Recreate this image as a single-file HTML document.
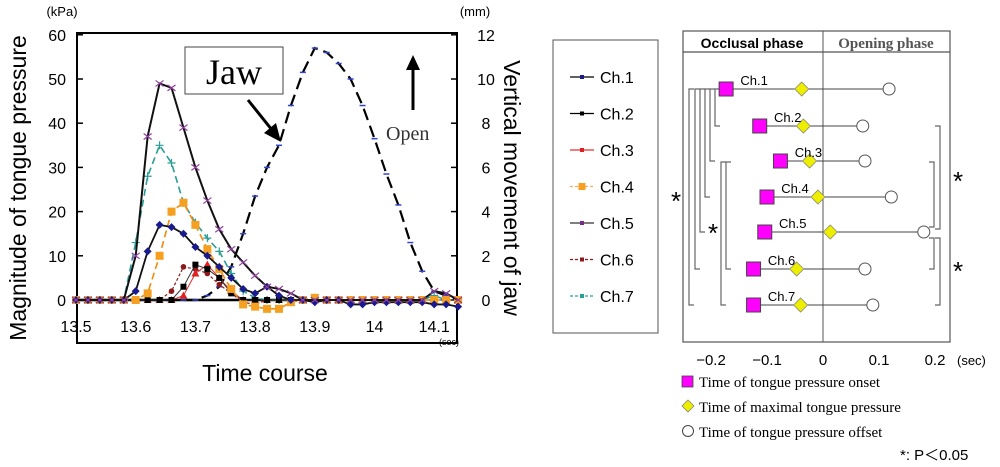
<!DOCTYPE html>
<html><head><meta charset="utf-8">
<style>
html,body{margin:0;padding:0;background:#fff;}
svg{display:block;font-family:"Liberation Sans",sans-serif;}
</style></head>
<body>
<svg id="fig" width="1000" height="467" viewBox="0 0 1000 467" xmlns="http://www.w3.org/2000/svg">
<g id="left"></g>
<g id="legend"></g>
<g id="right"></g>
</svg>
<script>
// ---- Left chart data ----
const times = [13.50,13.52,13.54,13.56,13.58,13.60,13.62,13.64,13.66,13.68,13.70,13.72,13.74,13.76,13.78,13.80,13.82,13.84,13.86,13.88,13.90,13.92,13.94,13.96,13.98,14.00,14.02,14.04,14.06,14.08,14.10,14.12,14.14];
const ch1 = [0,0,0,0,0,2,11,17,16.5,15,12,10,7.5,5,2.5,1.5,3,1,0,0,-0.5,0,0,-1,-1,-0.5,-0.5,-0.5,-0.5,-0.5,-1,-1,-1.5];
const ch2 = [0,0,0,0,0,0,0,0,0,3,8,7,5,1.5,0,0,0,0,0,0,0,0,0,0,0,0,0,0,0,0,0,0,0];
const ch3 = [0,0,0,0,0,0,0,0,0,1,6,8,5,2,0,0,0,0,0,0,0,0,0,0,0,0,0,0,0,0,0,0,0];
const ch4 = [0,0,0,0,0,0,1.5,10,20,22,17,11.5,7,2.5,-1,-1.5,-2,-2,-0.5,0,0.5,0,0,0,0,0,0,0,0,0,0,0,0];
const ch5 = [0,0,0,0,0,10,37,49,48,39,30,22.5,16,11.5,8.5,5.5,3,2.5,1.5,0,0,0,0,0,0,0,0,0,0,0,2,1.5,0];
const ch6 = [0,0,0,0,0,0,0,0,2,7.5,7,6,3.5,1.5,-0.5,-1,0,0,0,0,0,0,0,0,0,0,0,0,0,0,0,0,0];
const ch7 = [0,0,0,0,0,13,28,35,31,22,17.5,14,11,6,2,0.5,0,0,0,0,0,0,0,0,0,0,0,0,0,0,1,0,0];
const jaw = [0,0,0,0,0,0,0,0,0,0,0,0.2,0.6,1.5,3,4.7,6,7,8.8,10.3,11.4,11.2,10.7,10,8.8,7.3,5.7,4.3,2.6,1.3,0.4,0.2,0];
const xTicks = [13.5,13.6,13.7,13.8,13.9,14,14.1];
const yTicksL = [0,10,20,30,40,50,60];
const yTicksR = [0,2,4,6,8,10,12];
const chNames = ["Ch.1","Ch.2","Ch.3","Ch.4","Ch.5","Ch.6","Ch.7"];
// ---- Right diagram data (sec) ----
const onsetT = [-0.173,-0.113,-0.076,-0.100,-0.104,-0.124,-0.124];
const maxT = [-0.038,-0.035,-0.024,-0.009,0.013,-0.047,-0.040];
const offsetT = [0.118,0.071,0.075,0.122,0.180,0.075,0.089];
const diagTicks = [-0.2,-0.1,0,0.1,0.2];

const NS="http://www.w3.org/2000/svg";
function mk(parent,tag,attrs,text){const e=document.createElementNS(NS,tag);for(const k in attrs)e.setAttribute(k,attrs[k]);if(text!==undefined)e.textContent=text;parent.appendChild(e);return e;}

const X=t=>76+(t-13.5)*597;
const YL=v=>300-v*4.42;
const YR=v=>300-v*22.1;

const L=document.getElementById('left');
let box=mk(L,'rect',{x:77,y:33,width:380,height:310,fill:'none',stroke:'#000','stroke-width':2});


yTicksL.forEach(v=>{
  const t=mk(L,'line',{x1:77,x2:83,y1:YL(v),y2:YL(v),stroke:'#000','stroke-width':1.5});
  
  
  const l=mk(L,'text',{x:66,y:YL(v)+6,'text-anchor':'end','font-size':16},String(v));
  
  
});
yTicksR.forEach(v=>{
  const t=mk(L,'line',{x1:451,x2:457,y1:YR(v),y2:YR(v),stroke:'#000','stroke-width':1.5});
  
  
  const l=mk(L,'text',{x:486,y:YR(v)+6,'text-anchor':'middle','font-size':16},String(v));
  
  
});
xTicks.forEach(v=>{
  const l=mk(L,'text',{x:X(v),y:332,'text-anchor':'middle','font-size':16},String(v));
  
  
});
let bl=mk(L,'line',{x1:X(13.5),x2:X(13.86),y1:YL(0),y2:YL(0),stroke:'#000','stroke-width':2.5});



function series(vals,yf,color,dash,width,marker,mcolor,name){
  const g=mk(L,'g',{});
  
  
  const pts=vals.map((v,i)=>X(times[i])+','+yf(v)).join(' ');
  mk(g,'polyline',{points:pts,fill:'none',stroke:color,'stroke-width':width,'stroke-dasharray':dash});
  vals.forEach((v,i)=>{
    const x=X(times[i]),y=yf(v);
    let m;
    if(marker==='diamond')m=mk(g,'path',{d:`M${x} ${y-4}L${x+4} ${y}L${x} ${y+4}L${x-4} ${y}Z`,fill:mcolor});
    else if(marker==='square')m=mk(g,'rect',{x:x-3,y:y-3,width:6,height:6,fill:mcolor});
    else if(marker==='bigsquare')m=mk(g,'rect',{x:x-4,y:y-4,width:8,height:8,fill:mcolor});
    else if(marker==='tri')m=mk(g,'path',{d:`M${x} ${y-4}L${x+4} ${y+3}L${x-4} ${y+3}Z`,fill:mcolor});
    else if(marker==='dot')m=mk(g,'circle',{cx:x,cy:y,r:2.8,fill:mcolor});
    else if(marker==='x')m=mk(g,'path',{d:`M${x-4} ${y-3}L${x+4} ${y+3}M${x-4} ${y+3}L${x+4} ${y-3}`,stroke:mcolor,'stroke-width':1.2});
    else if(marker==='plus')m=mk(g,'path',{d:`M${x-4} ${y}L${x+4} ${y}M${x} ${y-4}L${x} ${y+4}`,stroke:mcolor,'stroke-width':1.2});
    else m=mk(g,'path',{d:`M${x-3} ${y}L${x+3} ${y}`,stroke:mcolor,'stroke-width':1.5});
    
    
  });
}
series(jaw,YR,'#000','12,6',2.2,'dash','#3344cc','jaw-series');
series(ch7,YL,'#2a9d95','7,4',1.6,'plus','#2a9d95','ch7-series');
series(ch6,YL,'#8b1a1a','3,2',1.2,'dot','#8b1a1a','ch6-series');
series(ch3,YL,'#e03030','',1,'tri','#e02020','ch3-series');
series(ch2,YL,'#333','',1,'square','#000','ch2-series');
series(ch4,YL,'#f08a10','7,4',1.6,'bigsquare','#f5a020','ch4-series');
series(ch1,YL,'#111','',1.8,'diamond','#1a1a90','ch1-series');
series(ch5,YL,'#111','',2,'x','#9040a0','ch5-series');

function txt(p,attrs,s,name){const t=mk(p,'text',attrs,s);return t;}
txt(L,{x:62,y:16,'text-anchor':'middle','font-size':13},'(kPa)','left-unit');
txt(L,{x:475,y:16,'text-anchor':'middle','font-size':13},'(mm)','right-unit');
txt(L,{x:449,y:345,'text-anchor':'middle','font-size':9},'(sec)','x-unit');
txt(L,{x:0,y:0,'text-anchor':'middle','font-size':23,transform:'translate(26,188) rotate(-90)'},'Magnitude of tongue pressure','left-y-title');
txt(L,{x:0,y:0,'text-anchor':'middle','font-size':23,transform:'translate(504,188) rotate(90)'},'Vertical movement of jaw','right-y-title');
txt(L,{x:265,y:381,'text-anchor':'middle','font-size':23},'Time course','x-axis-title');
let jb=mk(L,'rect',{x:185,y:47,width:98,height:47,fill:'#fff',stroke:'#444','stroke-width':1});


txt(L,{x:234,y:84,'text-anchor':'middle','font-size':36,'font-family':'Liberation Serif, serif'},'Jaw','jaw-label');
let a1=mk(L,'path',{d:'M248 100L272 130',stroke:'#000','stroke-width':3});

let a1h=mk(L,'path',{d:'M281 142L264 133L276 123Z',fill:'#000'});

let a2=mk(L,'path',{d:'M413 110L413 68',stroke:'#000','stroke-width':3});

let a2h=mk(L,'path',{d:'M413 55L406 70L420 70Z',fill:'#000'});

txt(L,{x:386,y:140,'font-size':20,'font-family':'Liberation Serif, serif',fill:'#333'},'Open','open-label');

// ---- legend ----
const G=document.getElementById('legend');
let lb=mk(G,'rect',{x:553,y:40,width:105,height:293,fill:'#fff',stroke:'#555','stroke-width':1});

const legColors=['#1a1a90','#000','#e02020','#f5a020','#7a2a8a','#8b1a1a','#2a9d95'];
const legLine=['#000','#000','#e03030','#f0b060','#333','#8b1a1a','#2a9d95'];
const legDash=['','','','3,2','','3,2','3,2'];
chNames.forEach((n,i)=>{
  const y=77+i*36.5;
  const g=mk(G,'g',{});
  
  
  mk(g,'line',{x1:570,x2:594,y1:y,y2:y,stroke:legLine[i],'stroke-width':1.2,'stroke-dasharray':legDash[i]});
  const sz=i===3?7:4;
  mk(g,'rect',{x:582-sz/2,y:y-sz/2,width:sz,height:sz,fill:legColors[i]});
  mk(g,'text',{x:600,y:y+6,'font-size':16},n);
});

// ---- right diagram ----
const R=document.getElementById('right');
const DX=s=>823+s*560;
const rowY=[89,126,161,197,232,269,305];
let rb=mk(R,'rect',{x:683,y:31,width:267,height:311,fill:'none',stroke:'#555','stroke-width':1.2});

let hl=mk(R,'line',{x1:683,x2:950,y1:52,y2:52,stroke:'#555','stroke-width':1.2});

let zl=mk(R,'line',{x1:DX(0),x2:DX(0),y1:31,y2:342,stroke:'#555','stroke-width':1});

txt(R,{x:752,y:48,'text-anchor':'middle','font-size':14,'font-weight':'bold'},'Occlusal phase','occlusal-phase-header');
txt(R,{x:886,y:48,'text-anchor':'middle','font-size':15,'font-weight':'bold','font-family':'Liberation Serif, serif',fill:'#555'},'Opening phase','opening-phase-header');
diagTicks.forEach(v=>{
  txt(R,{x:DX(v),y:365,'text-anchor':'middle','font-size':15},v===0?'0':(v<0?'\u2212'+Math.abs(v):String(v)),'diagram-x-tick-label');
});
txt(R,{x:957,y:365,'font-size':13},'(sec)','diagram-x-unit');
function bracket(x,y1,y2,side,name){
  const d=side==='L'?`M${x+5} ${y1}L${x} ${y1}L${x} ${y2}L${x+5} ${y2}`:`M${x-5} ${y1}L${x} ${y1}L${x} ${y2}L${x-5} ${y2}`;
  const p=mk(R,'path',{d:d,fill:'none',stroke:'#666','stroke-width':1.2});
  
}
bracket(689,89,305,'L','bracket-ch1-ch7');
bracket(695,89,269,'L','bracket-ch1-ch6');
bracket(700,89,232,'L','bracket-ch1-ch5');
bracket(705,89,197,'L','bracket-ch1-ch4');
bracket(710,89,161,'L','bracket-ch1-ch3');
bracket(715,89,126,'L','bracket-ch1-ch2');
bracket(721,162,305,'L','bracket-ch3-ch7');
bracket(726,162,269,'L','bracket-ch3-ch6');
bracket(940,126,229,'R','bracket-ch2-ch5');
bracket(934,162,227,'R','bracket-ch3-ch5');
bracket(940,238,305,'R','bracket-ch5-ch7');
bracket(934,238,269,'R','bracket-ch5-ch6');
txt(R,{x:676,y:210,'text-anchor':'middle','font-size':26},'*','sig-star-1');
txt(R,{x:713,y:242,'text-anchor':'middle','font-size':26},'*','sig-star-2');
txt(R,{x:958,y:190,'text-anchor':'middle','font-size':26},'*','sig-star-3');
txt(R,{x:958,y:280,'text-anchor':'middle','font-size':26},'*','sig-star-4');
chNames.forEach((n,i)=>{
  const y=rowY[i];
  const g=mk(R,'g',{});
  
  
  const xo=DX(onsetT[i]),xm=DX(maxT[i]),xf=DX(offsetT[i]);
  mk(g,'line',{x1:xo,x2:xf,y1:y,y2:y,stroke:'#444','stroke-width':1});
  const c=mk(g,'circle',{cx:xf,cy:y,r:6,fill:'#fff',stroke:'#555','stroke-width':1});
  
  const s=mk(g,'rect',{x:xo-7,y:y-7,width:14,height:14,fill:'#f0f',stroke:'#444','stroke-width':1});
  
  const d=mk(g,'path',{d:`M${xm} ${y-7}L${xm+7} ${y}L${xm} ${y+7}L${xm-7} ${y}Z`,fill:'#ee0',stroke:'#887','stroke-width':0.8});
  
  mk(g,'text',{x:xo+28,y:y-4,'text-anchor':'middle','font-size':13},n);
});
const ls=mk(R,'rect',{x:682,y:376,width:11,height:11,fill:'#f0f',stroke:'#444','stroke-width':0.8});

const ld=mk(R,'path',{d:'M688 400L694 406L688 412L682 406Z',fill:'#ee0',stroke:'#887','stroke-width':0.8});

const lc=mk(R,'circle',{cx:688,cy:431,r:5.5,fill:'#fff',stroke:'#444','stroke-width':1});

txt(R,{x:699,y:387,'font-size':15,'font-family':'Liberation Serif, serif'},'Time of tongue pressure onset','legend-onset-text');
txt(R,{x:699,y:412,'font-size':15,'font-family':'Liberation Serif, serif'},'Time of maximal tongue pressure','legend-max-text');
txt(R,{x:699,y:437,'font-size':15,'font-family':'Liberation Serif, serif'},'Time of tongue pressure offset','legend-offset-text');
txt(R,{x:900,y:460,'font-size':15,'font-family':'Liberation Sans, Noto Sans CJK JP, sans-serif'},'*: P\uFF1C0.05','significance-note');
</script>
</body></html>
